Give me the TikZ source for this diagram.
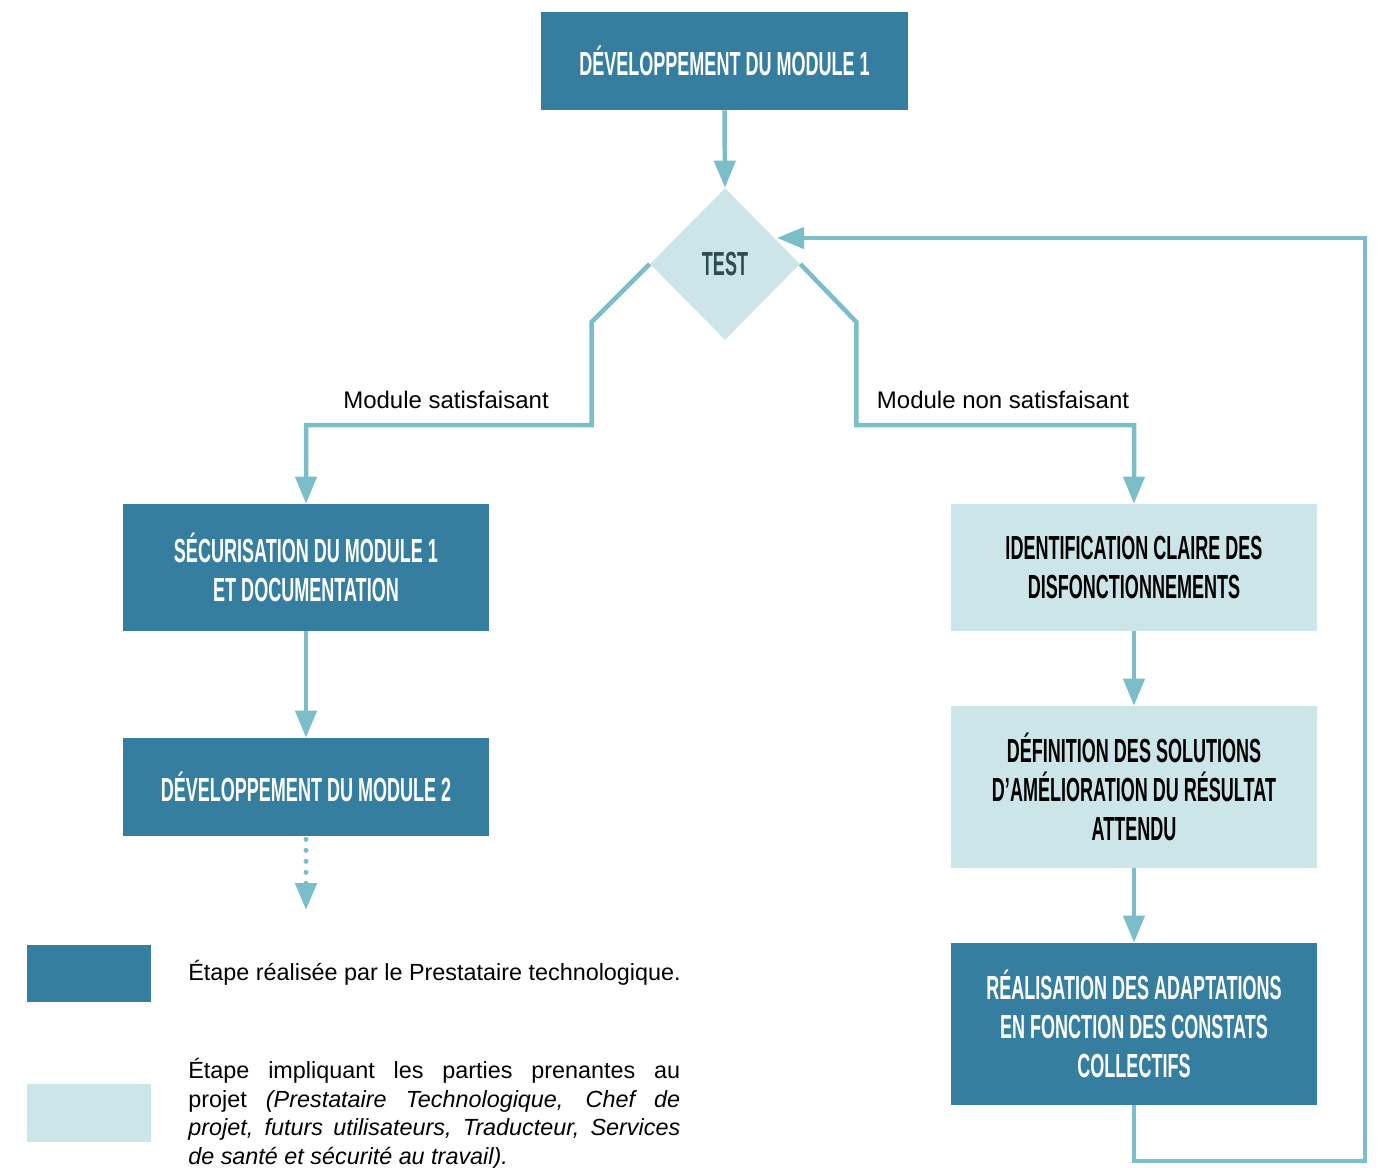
\documentclass[tikz,border=0pt]{standalone}
\usepackage{fontspec}
\setmainfont{Liberation Sans}
\newfontfamily\capsfont[FakeStretch=0.54]{Liberation Sans}
\usepackage{xcolor}
\definecolor{stepdark}{HTML}{367EA0}
\definecolor{steplight}{HTML}{CCE5E9}
\definecolor{arrowteal}{HTML}{7BBDC8}
\definecolor{testtext}{HTML}{2E4B52}
\usetikzlibrary{shapes.geometric, arrows.meta, positioning, calc}

\begin{document}
\begin{tikzpicture}[
  x=0.02cm, y=-0.02cm,
  every node/.style={font=\fontsize{13.66}{16.2}\selectfont},
  stepbox/.style={rectangle, minimum width=7.34cm, align=center, inner sep=0pt,
                  font=\capsfont\bfseries\fontsize{19}{22.2}\selectfont},
  darkstep/.style={stepbox, fill=stepdark, text=white},
  lightstep/.style={stepbox, fill=steplight, text=black},
  flowarrow/.style={draw=arrowteal, line width=0.09cm, -{Triangle[width=0.42cm,length=0.54cm]}},
  legendbox/.style={rectangle, minimum width=2.48cm, minimum height=1.15cm, inner sep=0pt},
  legendtext/.style={inner sep=0pt, font=\fontsize{13.3}{16.2}\selectfont}
]
  \useasboundingbox (0,0) rectangle (1383,1167);

  % Steps
  \node[darkstep, minimum height=1.96cm] (dev1) at (724.5,61) {DÉVELOPPEMENT DU MODULE 1};
  \node[diamond, fill=steplight, minimum width=3.0cm, minimum height=3.04cm, inner sep=0pt,
        text=testtext, font=\capsfont\bfseries\fontsize{19}{22.2}\selectfont]
    (test) at (725,264) {TEST};
  \node[darkstep, minimum height=2.54cm] (secu) at (306,567.5)
    {SÉCURISATION DU MODULE 1\\ET DOCUMENTATION};
  \node[darkstep, minimum height=1.96cm] (dev2) at (306,787) {DÉVELOPPEMENT DU MODULE 2};
  \node[lightstep, minimum height=2.54cm] (ident) at (1134,567.5)
    {IDENTIFICATION CLAIRE DES\\DISFONCTIONNEMENTS};
  \node[lightstep, minimum height=3.24cm] (defin) at (1134,787)
    {DÉFINITION DES SOLUTIONS\\D’AMÉLIORATION DU RÉSULTAT\\ATTENDU};
  \node[darkstep, minimum height=3.24cm] (real) at (1134,1024)
    {RÉALISATION DES ADAPTATIONS\\EN FONCTION DES CONSTATS\\COLLECTIFS};

  % Branch labels
  \node (lblok) at (446,400) {Module satisfaisant};
  \node (lblko) at (1003,400) {Module non satisfaisant};

  % Free ends
  \coordinate (dotend) at (306,910);
  \coordinate (loopc) at (1365,1161);
  \coordinate (testin) at (777,238);

  % Connectors
  \draw[flowarrow] (dev1.south) -- (test.north);
  \draw[flowarrow] (test.west) -- ++(-58,58) -- ++(0,103) -| (secu.north);
  \draw[flowarrow] (test.east) -- ++(56,58) -- ++(0,103) -| (ident.north);
  \draw[flowarrow] (secu.south) -- (dev2.north);
  \draw[flowarrow, line width=0.1cm, line cap=round, dash pattern=on 0pt off 0.22cm,
        shorten <=0.06cm] (dev2.south) -- (dotend);
  \draw[flowarrow] (ident.south) -- (defin.north);
  \draw[flowarrow] (defin.south) -- (real.north);
  \draw[flowarrow] (real.south) |- (loopc) |- (testin);

  % Legend
  \node[legendbox, fill=stepdark] (legdark) at (89,973.5) {};
  \node[legendbox, fill=steplight] (leglight) at (89,1113) {};
  \node[legendtext, anchor=west] (legtxtdark) at (188,973)
    {Étape réalisée par le Prestataire technologique.};
  \node[legendtext, anchor=north west, text width=9.84cm, align=justify] (legtxtlight) at (188,1058)
    {Étape impliquant les parties prenantes au\linebreak
     projet \textit{(Prestataire Technologique, Chef de\linebreak
     projet, futurs utilisateurs, Traducteur, Services\linebreak
     de santé et sécurité au travail).}};
\end{tikzpicture}
\end{document}
